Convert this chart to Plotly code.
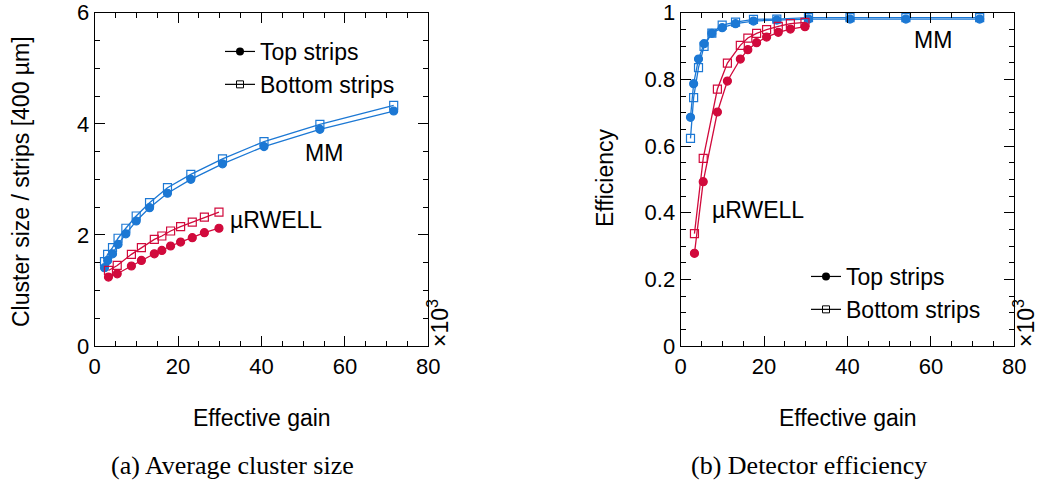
import plotly.graph_objects as go

# ---------------- data (gain in units of 10^3) ----------------
mm_gain = [2.35, 3.1, 4.27, 5.6, 7.47, 9.95, 13.15, 17.45, 23.05, 30.65, 40.6, 54.0, 71.7]
rw_gain = [3.3, 5.4, 8.8, 11.2, 14.3, 16.1, 18.2, 20.6, 23.4, 26.3, 29.8]

mm_cs_top = [1.41, 1.54, 1.66, 1.83, 2.02, 2.25, 2.49, 2.75, 3.00, 3.28, 3.59, 3.90, 4.23]
mm_cs_bot = [1.52, 1.65, 1.77, 1.94, 2.12, 2.34, 2.58, 2.85, 3.09, 3.37, 3.68, 3.99, 4.33]
rw_cs_top = [1.24, 1.30, 1.44, 1.54, 1.66, 1.72, 1.80, 1.87, 1.95, 2.04, 2.12]
rw_cs_bot = [1.36, 1.45, 1.65, 1.77, 1.92, 1.98, 2.07, 2.15, 2.23, 2.32, 2.41]

mm_eff_top = [0.686, 0.787, 0.861, 0.907, 0.938, 0.955, 0.967, 0.975, 0.978, 0.981, 0.981, 0.981, 0.981]
mm_eff_bot = [0.623, 0.745, 0.835, 0.899, 0.939, 0.963, 0.972, 0.980, 0.981, 0.985, 0.985, 0.985, 0.985]
rw_eff_top = [0.278, 0.493, 0.702, 0.795, 0.861, 0.889, 0.910, 0.927, 0.941, 0.951, 0.958]
rw_eff_bot = [0.337, 0.563, 0.771, 0.849, 0.902, 0.924, 0.938, 0.949, 0.959, 0.967, 0.971]

BLUE = "#1c78d4"
RED = "#d10a3c"
FONT = "Liberation Sans, Arial, sans-serif"
SERIF = "Liberation Serif, Times New Roman, serif"
FS = 23      # labels / legend / titles
TFS = 22     # tick labels
CFS = 26     # captions

fig = go.Figure()


def add_series(x, y, color, symbol, xa, ya):
    fig.add_trace(go.Scatter(
        x=x, y=y, mode="lines+markers", xaxis=xa, yaxis=ya,
        line=dict(color=color, width=1.3),
        marker=dict(symbol=symbol, size=8,
                    color=color, line=dict(color=color, width=1.2)),
        showlegend=False, hoverinfo="skip"))


# left panel: cluster size
add_series(mm_gain, mm_cs_bot, BLUE, "square-open", "x", "y")
add_series(mm_gain, mm_cs_top, BLUE, "circle", "x", "y")
add_series(rw_gain, rw_cs_bot, RED, "square-open", "x", "y")
add_series(rw_gain, rw_cs_top, RED, "circle", "x", "y")

# right panel: efficiency
add_series(mm_gain, mm_eff_bot, BLUE, "square-open", "x2", "y2")
add_series(mm_gain, mm_eff_top, BLUE, "circle", "x2", "y2")
add_series(rw_gain, rw_eff_bot, RED, "square-open", "x2", "y2")
add_series(rw_gain, rw_eff_top, RED, "circle", "x2", "y2")

# legend entries (black generic markers)
for lg, xa, ya in (("legend", "x", "y"), ("legend2", "x2", "y2")):
    fig.add_trace(go.Scatter(x=[None], y=[None], mode="lines+markers", name="Top strips",
                             xaxis=xa, yaxis=ya, legend=lg,
                             line=dict(color="black", width=1.2),
                             marker=dict(symbol="circle", size=8, color="black")))
    fig.add_trace(go.Scatter(x=[None], y=[None], mode="lines+markers", name="Bottom strips",
                             xaxis=xa, yaxis=ya, legend=lg,
                             line=dict(color="black", width=1.2),
                             marker=dict(symbol="square-open", size=7, color="black",
                                         line=dict(color="black", width=1))))

axis_common = dict(
    showline=True, linecolor="black", linewidth=1.2, mirror="ticks",
    ticks="inside", ticklen=10, tickcolor="black", tickwidth=1,
    showgrid=False, zeroline=False, automargin=False,
    tickfont=dict(family=FONT, size=TFS, color="black"),
)

W, H = 1044, 488
L1, R1 = 94.7 / W, 428.3 / W
L2, R2 = 680.7 / W, 1014.3 / W
YT, YB = 1 - 12.7 / H, 1 - 346 / H

fig.update_layout(
    template="none",
    width=W, height=H,
    margin=dict(l=0, r=0, t=0, b=0, autoexpand=False),
    paper_bgcolor="white", plot_bgcolor="white",
    font=dict(family=FONT, size=FS, color="black"),
    xaxis=dict(domain=[L1, R1], anchor="y", range=[0, 80], dtick=20,
               minor=dict(dtick=5, ticklen=5, ticks="inside", tickcolor="black"),
               **axis_common),
    yaxis=dict(domain=[YB, YT], anchor="x", range=[0, 6], dtick=2,
               minor=dict(dtick=0.5, ticklen=5, ticks="inside", tickcolor="black"),
               **axis_common),
    xaxis2=dict(domain=[L2, R2], anchor="y2", range=[0, 80], dtick=20,
                minor=dict(dtick=5, ticklen=5, ticks="inside", tickcolor="black"),
                **axis_common),
    yaxis2=dict(domain=[YB, YT], anchor="x2", range=[0, 1], dtick=0.2,
                minor=dict(dtick=0.05, ticklen=5, ticks="inside", tickcolor="black"),
                **axis_common),
    legend=dict(x=220 / W, y=1 - 30 / H, xanchor="left", yanchor="top",
                bgcolor="rgba(0,0,0,0)", font=dict(family=FONT, size=FS),
                itemwidth=30, tracegroupgap=0),
    legend2=dict(x=806 / W, y=1 - 255 / H, xanchor="left", yanchor="top",
                 bgcolor="rgba(0,0,0,0)", font=dict(family=FONT, size=FS),
                 itemwidth=30, tracegroupgap=0),
)

ann = []
# in-plot labels
ann.append(dict(x=50.0, y=3.47, xref="x", yref="y", text="MM", showarrow=False,
                xanchor="left", yanchor="middle", font=dict(size=FS)))
ann.append(dict(x=32.0, y=2.27, xref="x", yref="y", text="µRWELL", showarrow=False,
                xanchor="left", yanchor="middle", font=dict(size=FS)))
ann.append(dict(x=55.4, y=0.918, xref="x2", yref="y2", text="MM", showarrow=False,
                xanchor="left", yanchor="middle", font=dict(size=FS)))
ann.append(dict(x=7.0, y=0.408, xref="x2", yref="y2", text="µRWELL", showarrow=False,
                xanchor="left", yanchor="middle", font=dict(size=FS)))
# x-axis titles
for cx in ((L1 + R1) / 2, (L2 + R2) / 2):
    ann.append(dict(x=cx, y=1 - 418 / H, xref="paper", yref="paper", text="Effective gain",
                    showarrow=False, xanchor="center", yanchor="middle", font=dict(size=FS)))
# x10^3 multipliers
for cx in (438 / W, 1024 / W):
    ann.append(dict(x=cx, y=1 - 323 / H, xref="paper", yref="paper",
                    text="×10<sup>3</sup>", textangle=-90, showarrow=False,
                    xanchor="center", yanchor="middle", font=dict(size=FS)))
# y-axis titles
ann.append(dict(x=21 / W, y=1 - 182 / H, xref="paper", yref="paper",
                text="Cluster size / strips [400 µm]", textangle=-90, showarrow=False,
                xanchor="center", yanchor="middle", font=dict(size=FS)))
ann.append(dict(x=605 / W, y=1 - 178 / H, xref="paper", yref="paper",
                text="Efficiency", textangle=-90, showarrow=False,
                xanchor="center", yanchor="middle", font=dict(size=FS)))
# captions
ann.append(dict(x=232 / W, y=1 - 465 / H, xref="paper", yref="paper",
                text="(a) Average cluster size", showarrow=False,
                xanchor="center", yanchor="middle", font=dict(family=SERIF, size=CFS)))
ann.append(dict(x=809 / W, y=1 - 465 / H, xref="paper", yref="paper",
                text="(b) Detector efficiency", showarrow=False,
                xanchor="center", yanchor="middle", font=dict(family=SERIF, size=CFS)))

fig.update_layout(annotations=ann)
fig.write_html(
    "out.html",
    config={"displayModeBar": False},
    post_script="document.body.style.margin='0';document.body.style.padding='0';"
                "document.documentElement.style.overflow='hidden';",
)
